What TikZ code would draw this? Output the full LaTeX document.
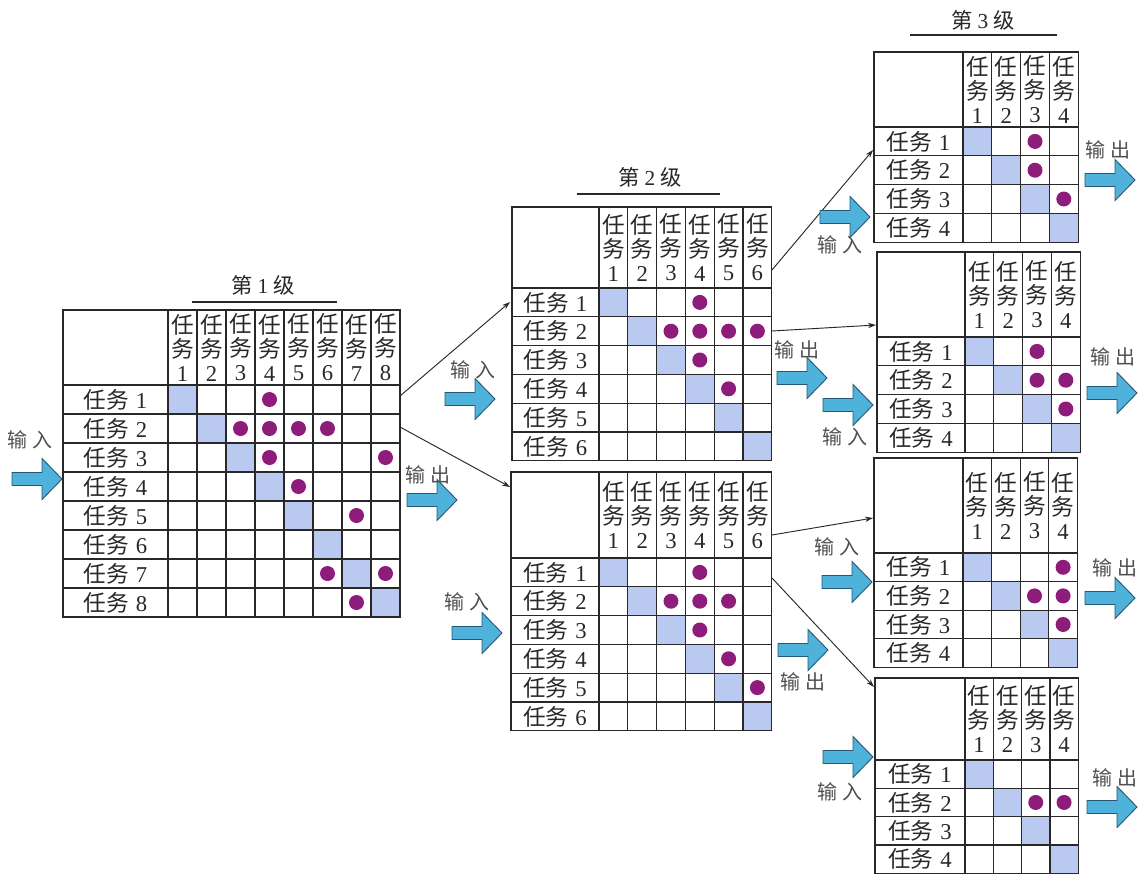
\documentclass[tikz,border=0pt]{standalone}
\usepackage{fontspec}
\setmainfont{Liberation Serif}
\newfontfamily\cjk{Noto Sans CJK SC}
\usetikzlibrary{arrows.meta}
\definecolor{diagc}{RGB}{186,201,240}
\definecolor{dotc}{RGB}{142,28,122}
\definecolor{arrf}{RGB}{78,178,218}
\definecolor{arrd}{RGB}{38,88,118}
\definecolor{ink}{RGB}{40,40,40}
\definecolor{lab}{RGB}{80,80,80}
\tikzset{
 gridline/.style={draw=ink, line width=0.9pt},
 diagfill/.style={fill=diagc},
 dotfill/.style={fill=dotc},
 hdr/.style={align=center, inner sep=0pt, text=ink, font=\fontsize{17}{18}\selectfont},
 rowlab/.style={inner sep=0pt, text=ink, font=\fontsize{17}{18}\selectfont},
 iolab/.style={inner sep=0pt, text=lab, font=\fontsize{15}{16}\selectfont\cjk},
 ttl/.style={inner sep=0pt, text=ink, font=\fontsize{16}{17}\selectfont},
 uline/.style={draw=ink, line width=0.9pt},
 conn/.style={draw=ink, line width=0.7pt, -{Stealth[length=6pt,width=4pt]}},
 blockarrow/.style={fill=arrf, draw=arrd, line width=0.7pt, line join=miter},
}
% #1 name, #2 x, #3 y, #4 label width, #5 header height, #6 cell size, #7 n, #8 dots (row/col)
\newcommand\dsmat[8]{%
 \begin{scope}[shift={(#2,#3)}]
  \foreach \i in {1,...,#7}{
    \fill[diagfill] ({#4+(\i-1)*#6},{#5+(\i-1)*#6}) rectangle ++(#6,#6);
  }
  \foreach \rr/\cc in {#8}{
    \fill[dotfill] ({#4+(\cc-0.5)*#6},{#5+(\rr-0.5)*#6}) circle[radius=7.5];
  }
  \draw[gridline] (0,0) rectangle ({#4+#7*#6},{#5+#7*#6});
  \foreach \i in {1,...,#7}{
    \draw[gridline] ({#4+(\i-1)*#6},0) -- ++(0,{#5+#7*#6});
    \draw[gridline] (0,{#5+(\i-1)*#6}) -- ++({#4+#7*#6},0);
    \node[hdr] (#1-h\i) at ({#4+(\i-0.5)*#6},{#5/2}) {{\cjk 任}\\{\cjk 务}\\\i};
    \node[rowlab] (#1-r\i) at ({#4/2},{#5+(\i-0.5)*#6}) {{\cjk 任务}\hspace{0.3em}\i};
  }
 \end{scope}}
% block arrow: #1 shaft left x, #2 centre y
\newcommand\blockarr[2]{%
 \draw[blockarrow] (#1,#2-6.5) -- ++(30,0) -- ++(0,-14) -- ++(20,20.5) -- ++(-20,20.5) -- ++(0,-14) -- ++(-30,0) -- cycle;}
\begin{document}
\begin{tikzpicture}[x=0.75pt,y=-0.75pt]
\fill[white] (0,0) rectangle (1140,875);
\useasboundingbox (0,0) rectangle (1140,875);

% titles
\node[ttl] (t1) at (263,285) {{\cjk 第}\hspace{0.25em}1\hspace{0.25em}{\cjk 级}};
\draw[uline] (192,302) -- (337,302);
\node[ttl] (t2) at (650,177) {{\cjk 第}\hspace{0.25em}2\hspace{0.25em}{\cjk 级}};
\draw[uline] (577,194) -- (720,194);
\node[ttl] (t3) at (983,20) {{\cjk 第}\hspace{0.25em}3\hspace{0.25em}{\cjk 级}};
\draw[uline] (910,35) -- (1057,35);

% matrices
\dsmat{A}{63}{310}{105}{75}{29}{8}{1/4,2/3,2/4,2/5,2/6,3/4,3/8,4/5,5/7,7/6,7/8,8/7}
\dsmat{B}{512}{207}{87}{81}{28.8}{6}{1/4,2/3,2/4,2/5,2/6,3/4,4/5}
\dsmat{C}{511}{472}{88}{86}{28.8}{6}{1/4,2/3,2/4,2/5,3/4,4/5,5/6}
\dsmat{D}{874}{52}{89}{75}{28.8}{4}{1/3,2/3,3/4}
\dsmat{E}{877}{252}{88}{85}{28.8}{4}{1/3,2/3,2/4,3/4}
\dsmat{F}{874}{458}{89}{95}{28.6}{4}{1/4,2/3,2/4,3/4}
\dsmat{G}{875}{678}{90}{82}{28.3}{4}{2/3,2/4}

% connector end points
\coordinate (A-o1) at (400,396);
\coordinate (A-o2) at (400,427);
\coordinate (B-in) at (510,302);
\coordinate (C-in) at (510,487);
\coordinate (B-o1) at (772,270);
\coordinate (B-o2) at (772,331);
\coordinate (C-o1) at (772,535);
\coordinate (C-o2) at (772,578);
\coordinate (D-in) at (873,150);
\coordinate (E-in) at (876,325);
\coordinate (F-in) at (873,518);
\coordinate (G-in) at (874,687);

\draw[conn] (A-o1) -- (B-in);
\draw[conn] (A-o2) -- (C-in);
\draw[conn] (B-o1) -- (D-in);
\draw[conn] (B-o2) -- (E-in);
\draw[conn] (C-o1) -- (F-in);
\draw[conn] (C-o2) -- (G-in);

% block arrows
\blockarr{12}{479}
\blockarr{407}{500}
\blockarr{445}{399}
\blockarr{777}{378}
\blockarr{452}{633}
\blockarr{778}{650}
\blockarr{820}{217}
\blockarr{1085}{180}
\blockarr{823}{405}
\blockarr{1087}{393}
\blockarr{822}{582}
\blockarr{1085}{598}
\blockarr{823}{757}
\blockarr{1087}{807}

% io labels
\node[iolab] (l1) at (30,440) {输\hspace{0.25em}入};
\node[iolab] (l2) at (428,475) {输\hspace{0.25em}出};
\node[iolab] (l3) at (473,370) {输\hspace{0.25em}入};
\node[iolab] (l4) at (797,350) {输\hspace{0.25em}出};
\node[iolab] (l5) at (467,602) {输\hspace{0.25em}入};
\node[iolab] (l6) at (803,682) {输\hspace{0.25em}出};
\node[iolab] (l7) at (840,245) {输\hspace{0.25em}入};
\node[iolab] (l8) at (1108,150) {输\hspace{0.25em}出};
\node[iolab] (l9) at (845,437) {输\hspace{0.25em}入};
\node[iolab] (l10) at (1113,357) {输\hspace{0.25em}出};
\node[iolab] (l11) at (837,547) {输\hspace{0.25em}入};
\node[iolab] (l12) at (1115,568) {输\hspace{0.25em}出};
\node[iolab] (l13) at (840,792) {输\hspace{0.25em}入};
\node[iolab] (l14) at (1115,778) {输\hspace{0.25em}出};
\end{tikzpicture}
\end{document}
